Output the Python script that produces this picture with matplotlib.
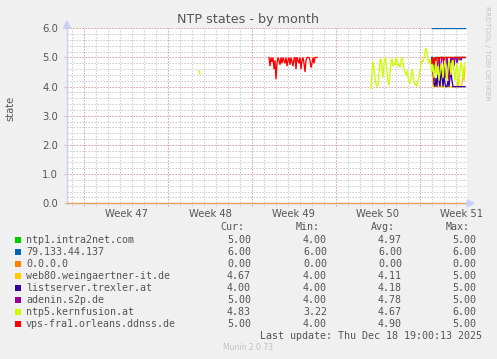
import numpy as np
import matplotlib
matplotlib.use("Agg")
import matplotlib.pyplot as plt
from matplotlib.patches import Rectangle, Polygon

# ---------------- data ----------------
# time axis: days since Monday 2025-11-17 00:00 (start of Week 47); samples every 2 hours
STEP = 1.0 / 12.0
week_labels = ["Week 47", "Week 48", "Week 49", "Week 50", "Week 51"]
week_label_days = [3.5, 10.5, 17.5, 24.5, 31.5]
week_start_days = [0, 7, 14, 21, 28]
x_start_day = -1.4167
x_end_day = 31.9167

hosts = ["ntp1.intra2net.com", "79.133.44.137", "0.0.0.0", "web80.weingaertner-it.de",
         "listserver.trexler.at", "adenin.s2p.de", "ntp5.kernfusion.at", "vps-fra1.orleans.ddnss.de"]
colors = ["#00CC00", "#0066B3", "#FF8000", "#FFCC00", "#330099", "#990099", "#CCFF00", "#FF0000"]
cur_vals = ["5.00", "6.00", "0.00", "4.67", "4.00", "5.00", "4.83", "5.00"]
min_vals = ["4.00", "6.00", "0.00", "4.00", "4.00", "4.00", "3.22", "4.00"]
avg_vals = ["4.97", "6.00", "0.00", "4.11", "4.18", "4.78", "4.67", "4.90"]
max_vals = ["5.00", "6.00", "0.00", "5.00", "5.00", "5.00", "6.00", "5.00"]

last_seg_start = 29.0  # Tue 2025-12-16 00:00

ntp1_vals = [5.0, 4.6, 5.0, 5.0, 5.0, 5.0, 5.0, 5.0, 5.0, 5.0, 5.0, 5.0, 5.0, 5.0, 5.0, 5.0, 5.0,
             5.0, 5.0, 5.0, 4.8, 5.0, 5.0, 5.0, 5.0, 5.0, 5.0, 4.9, 5.0, 5.0, 5.0, 5.0, 5.0, 5.0]
ip79_vals = [6.0, 6.0, 6.0, 6.0, 6.0, 6.0, 6.0, 6.0, 6.0, 6.0, 6.0, 6.0, 6.0, 6.0, 6.0, 6.0, 6.0,
             6.0, 6.0, 6.0, 6.0, 6.0, 6.0, 6.0, 6.0, 6.0, 6.0, 6.0, 6.0, 6.0, 6.0, 6.0, 6.0, 6.0]
zero_days = [-1.4167, 31.75]
zero_vals = [0.0, 0.0]
web80_vals = [4.6, 4.0, 4.0, 4.2, 4.0, 4.0, 4.0, 4.0, 4.3, 4.0, 4.0, 4.0, 4.0, 4.0, 4.0, 4.0, 4.0,
              4.0, 4.0, 4.0, 4.0, 4.0, 4.0, 4.0, 4.0, 4.0, 4.3, 4.0, 4.0, 4.0, 4.1, 4.5, 4.2, 4.67]
listserver_vals = [5.0, 4.6, 4.1, 4.0, 4.3, 4.0, 4.5, 4.2, 4.0, 4.6, 4.3, 4.0, 4.4, 4.1, 4.0, 4.0, 4.2,
                   4.0, 4.3, 4.5, 4.2, 4.0, 4.0, 4.0, 4.0, 4.0, 4.0, 4.0, 4.0, 4.0, 4.0, 4.0, 4.0, 4.0]
adenin_vals = [5.0, 4.6, 4.2, 4.8, 5.0, 4.5, 4.9, 5.0, 4.4, 4.8, 5.0, 5.0, 4.7, 4.3, 4.9, 5.0, 4.6,
               4.2, 4.8, 5.0, 4.9, 5.0, 4.7, 5.0, 5.0, 4.8, 5.0, 5.0, 5.0, 4.9, 5.0, 5.0, 5.0, 5.0]

ntp5_blip_start = 9.583
ntp5_blip_vals = [4.55, 4.43]
ntp5_start = 23.917
ntp5_vals = [3.93, 4.5, 4.85, 4.6, 4.3, 4.1, 4.0, 4.05, 4.5, 4.9, 4.95, 4.6, 4.3, 4.8, 5.0, 4.85,
             4.5, 4.2, 4.05, 4.4, 4.9, 4.95, 4.7, 4.8, 4.75, 5.0, 4.9, 4.7, 4.8, 4.65, 4.9, 5.0,
             4.85, 4.6, 4.5, 4.4, 4.55, 4.3, 4.2, 4.1, 4.3, 4.6, 4.45, 4.2, 4.05, 4.1, 4.0, 4.25,
             4.3, 4.6, 4.75, 4.9, 4.85, 5.0, 5.15, 5.33, 5.2, 4.9, 4.8, 4.95, 4.7,
             4.5, 4.8, 4.3, 4.6, 4.9, 4.4, 4.7, 4.2, 4.5, 4.8, 4.6, 4.3, 4.7, 4.9, 4.5, 4.2, 4.6,
             4.9, 4.7, 4.4, 4.8, 4.9, 4.5, 4.2, 4.6, 4.8, 4.3, 4.1, 4.6, 4.85, 4.6, 4.3, 4.7, 4.83]

vps_start1 = 15.417
vps_vals1 = [5.0, 4.7, 5.0, 4.85, 5.0, 4.6, 4.9, 4.26, 4.8, 5.0, 4.9, 4.75, 5.0, 4.8, 5.0, 4.9, 4.8,
             5.0, 4.7, 4.9, 5.0, 4.75, 5.0, 4.85, 4.7, 4.95, 5.0, 4.6, 5.0, 4.9, 4.8, 5.0, 4.6, 4.9,
             5.0, 4.8, 4.5, 4.9, 5.0, 5.0, 5.0, 4.9, 4.65, 4.8, 5.0, 4.8, 5.0, 5.0, 5.0]
vps_vals2 = [4.8, 5.0, 4.75, 5.0, 4.9, 5.0, 5.0, 4.85, 5.0, 5.0, 5.0, 5.0, 4.9, 5.0, 5.0, 5.0, 5.0,
             5.0, 5.0, 5.0, 5.0, 5.0, 5.0, 5.0, 5.0, 5.0, 5.0, 5.0, 5.0, 5.0, 5.0, 5.0, 5.0, 5.0]

y_ticks = [0.0, 1.0, 2.0, 3.0, 4.0, 5.0, 6.0]

# ---------------- figure ----------------
W, H = 497, 359
fig = plt.figure(figsize=(W / 100, H / 100), dpi=100, facecolor="#F0F0F0")


def fx(px):
    return px / W


def fy(py):
    return 1 - py / H


TXT = "#555555"
ax = fig.add_axes([fx(67), fy(203.3), 400 / W, 175.0 / H])
ax.set_facecolor("white")
ax.set_xlim(x_start_day, x_end_day)
ax.set_ylim(0, 6)

# grid
GRAY = "#CDCDCD"
RED = "#E8A6A6"
DASH = (0, (1.5, 1.5))
below = -2.5 / 175.0
for d in range(-1, 32):
    ax.axvline(d, ymin=below, color=GRAY, lw=0.72, ls=DASH, zorder=0.5, clip_on=False)
for v in np.arange(0, 6.01, 0.2):
    ax.axhline(v, color=GRAY, lw=0.72, ls=DASH, zorder=0.5)
for d in week_start_days:
    ax.axvline(d, ymin=below, color=RED, lw=0.72, ls=DASH, zorder=0.6, clip_on=False)
for v in y_ticks:
    ax.axhline(v, color=RED, lw=0.72, ls=DASH, zorder=0.6)

for s in ["top", "right"]:
    ax.spines[s].set_visible(False)
ax.spines["left"].set_color("#C8D0F4")
ax.spines["bottom"].set_color("#C8D0F4")
ax.spines["left"].set_linewidth(1.0)
ax.spines["bottom"].set_linewidth(1.0)

ax.set_yticks(y_ticks)
ax.set_yticklabels([f"{v:.1f}" for v in y_ticks])
ax.set_xticks(week_label_days)
ax.set_xticklabels(week_labels)
ax.tick_params(axis="y", length=2, color="#C8C8C8", pad=4.5, labelsize=7.2, labelcolor=TXT)
ax.tick_params(axis="x", length=0, pad=4, labelsize=7.2, labelcolor=TXT)

LW = 0.95


def seg(start, vals, color, z):
    xs = start + np.arange(len(vals)) * STEP
    ax.plot(xs, vals, color=color, lw=LW, zorder=z, solid_joinstyle="miter")


seg(last_seg_start, ntp1_vals, colors[0], 2)
seg(last_seg_start, ip79_vals, colors[1], 3)
ax.plot(zero_days, zero_vals, color=colors[2], lw=1.0, alpha=0.6, zorder=4, clip_on=False)
seg(last_seg_start, web80_vals, colors[3], 5)
seg(last_seg_start, listserver_vals, colors[4], 6)
seg(last_seg_start, adenin_vals, colors[5], 7)
seg(ntp5_blip_start, ntp5_blip_vals, colors[6], 8)
seg(ntp5_start, ntp5_vals, colors[6], 8)
seg(vps_start1, vps_vals1, colors[7], 9)
seg(last_seg_start, vps_vals2, colors[7], 9)

# axis arrows
arrow_c = "#C8D0F4"
fig.patches.append(Polygon([[fx(63.5), fy(28)], [fx(70.5), fy(28)], [fx(67), fy(21)]],
                           closed=True, transform=fig.transFigure, color=arrow_c))
fig.patches.append(Polygon([[fx(467), fy(199.8)], [fx(467), fy(206.8)], [fx(474), fy(203.3)]],
                           closed=True, transform=fig.transFigure, color=arrow_c))

# titles
fig.text(fx(248.5), fy(23.5), "NTP states - by month", ha="center", va="baseline",
         fontsize=9.2, color=TXT, family="DejaVu Sans")
fig.text(fx(10), fy(108), "state", rotation=90, ha="center", va="center",
         fontsize=7.2, color=TXT, family="DejaVu Sans")
fig.text(fx(487), fy(53), "RRDTOOL / TOBI OETIKER", rotation=270, ha="center", va="center",
         fontsize=5.3, color="#C4C4C4", family="DejaVu Sans")

# legend
MONO = "DejaVu Sans Mono"
FS = 7.2
for lbl, xr in zip(["Cur:", "Min:", "Avg:", "Max:"], [244, 320, 395, 470]):
    fig.text(fx(xr), fy(230), lbl, ha="right", va="baseline", fontsize=FS, color=TXT, family=MONO)
for i, name in enumerate(hosts):
    base = 243.3 + 12.0 * i
    fig.patches.append(Rectangle((fx(14.5), fy(base)), 6 / W, 6 / H, transform=fig.transFigure,
                                 facecolor=colors[i], edgecolor="none"))
    fig.text(fx(26), fy(base), name, ha="left", va="baseline", fontsize=FS, color=TXT, family=MONO)
    for vals, xr in zip([cur_vals, min_vals, avg_vals, max_vals], [251, 327, 402, 476]):
        fig.text(fx(xr), fy(base), vals[i], ha="right", va="baseline", fontsize=FS, color=TXT,
                 family=MONO)
fig.text(fx(482), fy(339), "Last update: Thu Dec 18 19:00:13 2025", ha="right", va="baseline",
         fontsize=FS, color=TXT, family=MONO)
fig.text(fx(248), fy(350.5), "Munin 2.0.73", ha="center", va="baseline", fontsize=5.5,
         color="#C0C0C0", family="DejaVu Sans")

fig.savefig("out.png", dpi=100, facecolor=fig.get_facecolor())
